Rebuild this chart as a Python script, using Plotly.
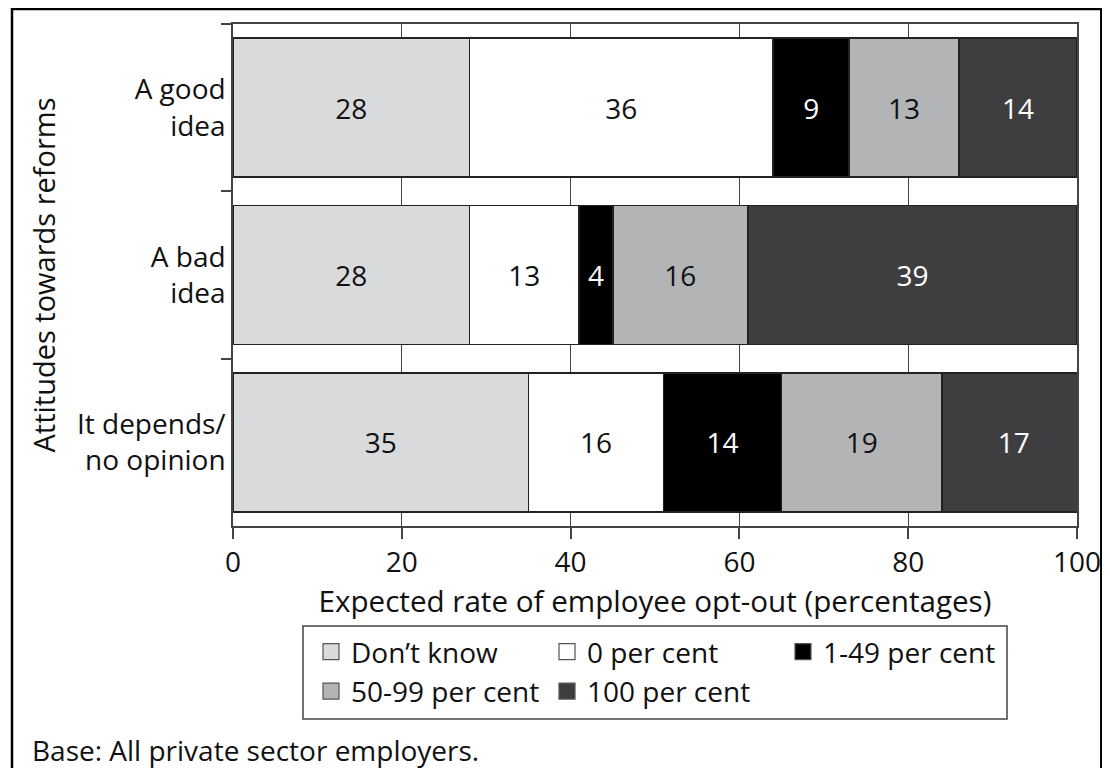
import plotly.graph_objects as go

# ---- data ----
categories = ["A good<br>idea", "A bad<br>idea", "It depends/<br>no opinion"]
series_names = ["Don’t know", "0 per cent", "1-49 per cent", "50-99 per cent", "100 per cent"]
dont_know = [28, 28, 35]
zero_pc = [36, 13, 16]
low_pc = [9, 4, 14]
high_pc = [13, 16, 19]
all_pc = [14, 39, 17]
x_ticks = [0, 20, 40, 60, 80, 100]

series_values = [dont_know, zero_pc, low_pc, high_pc, all_pc]
fill_colors = ["#d9dadc", "#ffffff", "#000000", "#b3b4b6", "#3e3e41"]
text_colors = ["#111111", "#111111", "#ffffff", "#111111", "#ffffff"]

FONT = "Open Sans"
OFF = 8  # default page body margin
W, H = 1110 - 2 * OFF, 776 - 2 * OFF
# plot area in page pixels
L, R, T, B = 233 - OFF, 1077 - OFF, 24 - OFF, 526 - OFF


def px_x(x):
    return (x - OFF - L) / (R - L)


def px_y(y):
    return (B - (y - OFF)) / (B - T)


fig = go.Figure()
for name, vals, fc, tc in zip(series_names, series_values, fill_colors, text_colors):
    fig.add_trace(go.Bar(
        y=categories, x=vals, orientation="h", name=name,
        marker=dict(color=fc, line=dict(color="#222222", width=1.5)),
        text=vals, textposition="inside", insidetextanchor="middle",
        textfont=dict(family=FONT, size=28, color=tc),
        constraintext="none", showlegend=False, hoverinfo="x+name",
    ))

# legend entries (square swatches)
for name, fc in zip(series_names, fill_colors):
    fig.add_trace(go.Scatter(
        x=[None], y=[None], mode="markers", name=name,
        marker=dict(symbol="square", size=16, color=fc, line=dict(color="#555555", width=1.2)),
        showlegend=True, hoverinfo="skip",
    ))

shapes = [
    # legend frame
    dict(type="rect", xref="paper", yref="paper",
         x0=px_x(303), x1=px_x(1007), y0=px_y(719), y1=px_y(626),
         line=dict(color="#444444", width=1.5), fillcolor="rgba(0,0,0,0)", layer="below"),
    # outer frame
    dict(type="rect", xref="paper", yref="paper",
         x0=px_x(12), x1=px_x(1101.3), y0=px_y(800), y1=px_y(9),
         line=dict(color="#000000", width=2.5), fillcolor="rgba(0,0,0,0)", layer="below"),
]

fig.update_layout(
    width=W, height=H,
    margin=dict(l=L, r=W - R, t=T, b=H - B, autoexpand=False),
    paper_bgcolor="white", plot_bgcolor="white",
    barmode="stack", bargap=0.17,
    font=dict(family=FONT, size=28, color="#111111"),
    shapes=shapes,
    legend=dict(
        orientation="h", x=px_x(311), y=px_y(627), xanchor="left", yanchor="top",
        bgcolor="rgba(0,0,0,0)", borderwidth=0, entrywidth=191,
        font=dict(family=FONT, size=28, color="#111111"), traceorder="normal",
    ),
    annotations=[dict(
        text="Base: All private sector employers.", xref="paper", yref="paper",
        x=px_x(30), y=px_y(750), xanchor="left", yanchor="middle", showarrow=False,
        font=dict(family=FONT, size=28, color="#111111"),
    )],
)

fig.update_xaxes(
    range=[0, 100], tickvals=x_ticks, ticktext=[str(v) for v in x_ticks],
    showgrid=True, gridcolor="#444444", gridwidth=1.2,
    showline=True, linecolor="#444444", linewidth=1.5, mirror=True,
    ticks="outside", ticklen=11, tickcolor="#444444", tickwidth=1.5,
    tickfont=dict(family=FONT, size=28, color="#111111"),
    zeroline=False,
    title=dict(text="Expected rate of employee opt-out (percentages)",
               font=dict(family=FONT, size=29.6, color="#111111"), standoff=0),
)
fig.update_yaxes(
    type="category", categoryorder="array", categoryarray=categories, autorange="reversed",
    showgrid=False, showline=True, linecolor="#444444", linewidth=1.5, mirror=True,
    ticks="outside", tickson="boundaries", ticklen=10, tickcolor="#444444", tickwidth=1.5,
    tickfont=dict(family=FONT, size=28, color="#111111"),
    title=dict(text="Attitudes towards reforms",
               font=dict(family=FONT, size=29, color="#111111"), standoff=13),
)

fig.write_html("out.html")
